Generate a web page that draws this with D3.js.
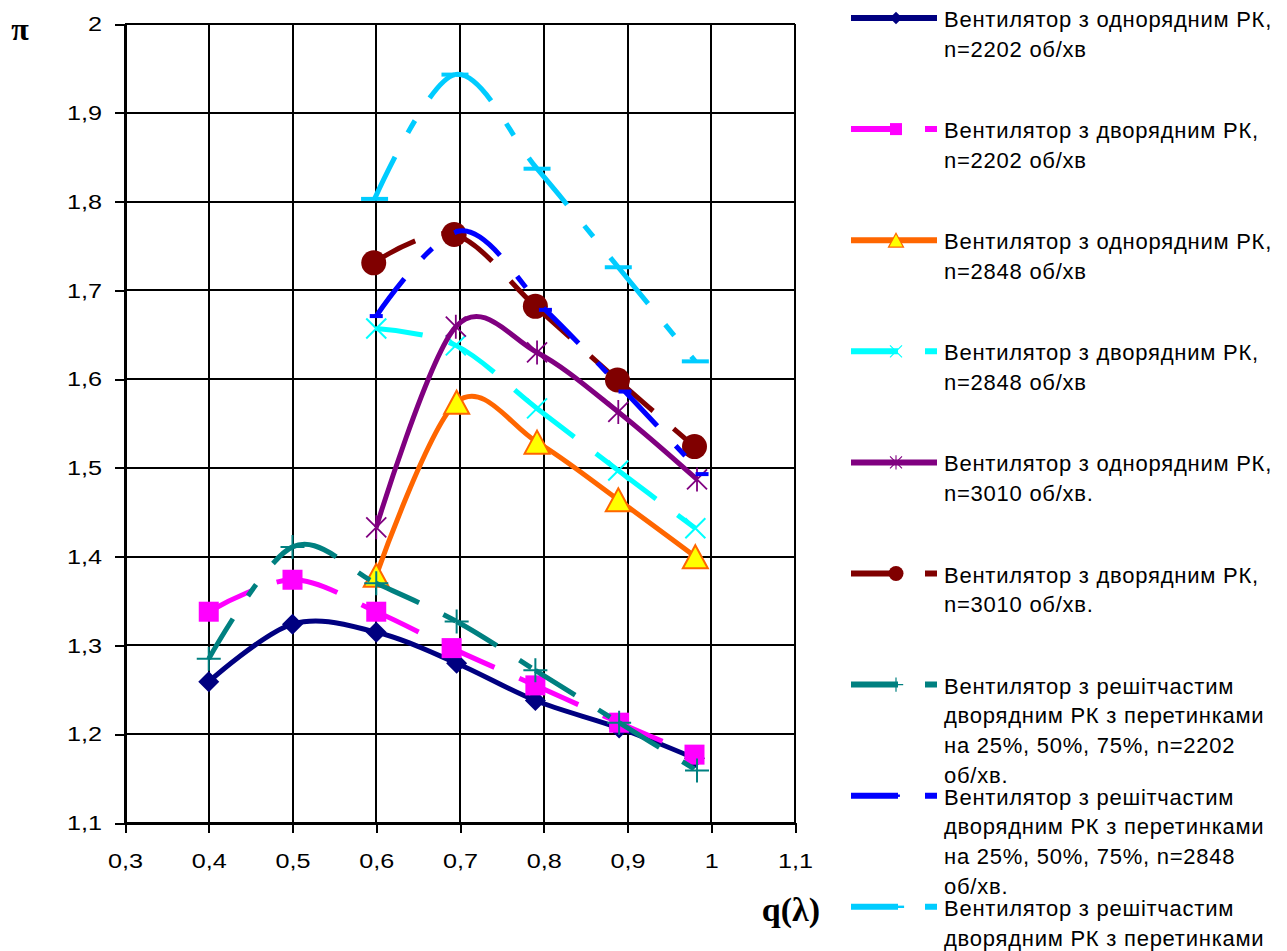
<!DOCTYPE html>
<html><head><meta charset="utf-8">
<script src="https://cdn.jsdelivr.net/npm/d3@7"></script>
<style>
body{margin:0;background:#fff}svg{display:block}
.xt{transform-box:fill-box;transform-origin:center;transform:scaleX(1.2)}
.yt{transform-box:fill-box;transform-origin:right center;transform:scaleX(1.2)}
</style>
</head><body><svg id="c" width="1287" height="951"></svg>
<script>
const xTicks = [0.3,0.4,0.5,0.6,0.7,0.8,0.9,1.0,1.1];
const xTickLabels = ["0,3","0,4","0,5","0,6","0,7","0,8","0,9","1","1,1"];
const yTicks = [1.1,1.2,1.3,1.4,1.5,1.6,1.7,1.8,1.9,2.0];
const yTickLabels = ["1,1","1,2","1,3","1,4","1,5","1,6","1,7","1,8","1,9","2"];

const seriesLabels = [
  ["Вентилятор з однорядним РК,","n=2202 об/хв"],
  ["Вентилятор з дворядним РК,","n=2202 об/хв"],
  ["Вентилятор з однорядним РК,","n=2848 об/хв"],
  ["Вентилятор з дворядним РК,","n=2848 об/хв"],
  ["Вентилятор з однорядним РК,","n=3010 об/хв."],
  ["Вентилятор з дворядним РК,","n=3010 об/хв."],
  ["Вентилятор з решітчастим","дворядним РК з перетинками","на 25%, 50%, 75%, n=2202","об/хв."],
  ["Вентилятор з решітчастим","дворядним РК з перетинками","на 25%, 50%, 75%, n=2848","об/хв."],
  ["Вентилятор з решітчастим","дворядним РК з перетинками","на 25%, 50%, 75%, n=3010","об/хв."]
];

const x1 = [0.4,0.5,0.6,0.696,0.79,0.89,0.98];
const y1 = [1.259,1.324,1.315,1.280,1.238,1.207,1.173];
const x2 = [0.4,0.5,0.6,0.69,0.79,0.89,0.98];
const y2 = [1.338,1.374,1.338,1.297,1.255,1.213,1.177];
const x3 = [0.6,0.696,0.792,0.889,0.981];
const y3 = [1.379,1.574,1.529,1.464,1.400];
const x4 = [0.6,0.695,0.792,0.889,0.981];
const y4 = [1.657,1.638,1.567,1.497,1.432];
const x5 = [0.6,0.695,0.792,0.889,0.983];
const y5 = [1.433,1.659,1.630,1.563,1.487];
const x6 = [0.597,0.693,0.79,0.888,0.98];
const y6 = [1.731,1.763,1.682,1.599,1.524];
const x7 = [0.4,0.5,0.6,0.696,0.79,0.89,0.983];
const y7 = [1.285,1.411,1.370,1.327,1.272,1.213,1.159];
const x8 = [0.6,0.702,0.802,0.897,0.989];
const y8 = [1.671,1.767,1.678,1.586,1.493];
const x9 = [0.598,0.694,0.792,0.889,0.981];
const y9 = [1.803,1.943,1.837,1.726,1.620];

const seriesColors = ["#000080","#FF00FF","#FF6600","#00FFFF","#800080","#800000","#008080","#0000FF","#00CCFF"];
const seriesMarkers = ["diamond","square","triangle","x","asterisk","circle","plus","dashS","dashL"];
const seriesDash = ["solid","dashdot","solid","long","solid","long","dashdot","dashdot","dashdot"];
const xs = [x1,x2,x3,x4,x5,x6,x7,x8,x9];
const ys = [y1,y2,y3,y4,y5,y6,y7,y8,y9];

const dashArrays = {solid:null, long:"47,27", dashdot:"47,27,14,27"};

const svg = d3.select("#c");
svg.append("rect").attr("width",1287).attr("height",951).attr("fill","#fff");

const L=125, R=795, T=24, B=823;
const x = d3.scaleLinear().domain([0.3,1.1]).range([L,R]);
const y = d3.scaleLinear().domain([1.1,2.0]).range([B,T]);

const FONT = "'Liberation Sans', Arial, sans-serif";
const SERIF = "'Liberation Serif','Times New Roman',serif";

// grid
const grid = svg.append("g").attr("stroke","#000").attr("stroke-width",2).attr("shape-rendering","crispEdges");
xTicks.forEach(v=>grid.append("line").attr("x1",x(v)).attr("x2",x(v)).attr("y1",T).attr("y2",B));
yTicks.forEach(v=>grid.append("line").attr("x1",L).attr("x2",R).attr("y1",y(v)).attr("y2",y(v)));

// axes
const ax = svg.append("g").attr("transform",`translate(0,${B})`)
  .call(d3.axisBottom(x).tickValues(xTicks).tickFormat((d,i)=>xTickLabels[i]).tickSize(10).tickPadding(20).tickSizeOuter(0));
const ay = svg.append("g").attr("transform",`translate(${L},0)`)
  .call(d3.axisLeft(y).tickValues(yTicks).tickFormat((d,i)=>yTickLabels[i]).tickSize(10).tickPadding(13).tickSizeOuter(0));
[ax,ay].forEach(a=>{
  a.select(".domain").attr("stroke","#000").attr("stroke-width",2).attr("shape-rendering","crispEdges");
  a.selectAll(".tick line").attr("stroke","#000").attr("stroke-width",2).attr("shape-rendering","crispEdges");
  a.selectAll(".tick text").attr("font-family",FONT).attr("font-size",21).attr("fill","#000");
});
ax.selectAll(".tick text").attr("class","xt");
ay.selectAll(".tick text").attr("class","yt");

// axis titles
svg.append("text").attr("x",20).attr("y",40).attr("text-anchor","middle")
  .attr("font-family",SERIF).attr("font-weight","bold").attr("font-size",32).text("π");
svg.append("text").attr("x",820).attr("y",921).attr("text-anchor","end")
  .attr("font-family",SERIF).attr("font-weight","bold").attr("font-size",34).text("q(λ)");

function segmentPaths(pts){
  const segs=[]; let cx=0, cy=0;
  const ctx = {
    moveTo(a,b){cx=a;cy=b;},
    lineTo(a,b){segs.push(`M${cx},${cy}L${a},${b}`);cx=a;cy=b;},
    bezierCurveTo(a,b,c,d,e,f){segs.push(`M${cx},${cy}C${a},${b},${c},${d},${e},${f}`);cx=e;cy=f;},
    closePath(){}
  };
  d3.line().x(d=>x(d[0])).y(d=>y(d[1])).curve(d3.curveCardinal.tension(0)).context(ctx)(pts);
  return segs;
}

function drawMarker(g, type, cx, cy, s, color){
  const m = g.append("g").attr("transform",`translate(${cx},${cy}) scale(${s})`);
  switch(type){
    case "diamond": m.append("path").attr("d","M0,-10.5L10.5,0L0,10.5L-10.5,0Z").attr("fill",color); break;
    case "square": m.append("rect").attr("x",-10).attr("y",-10).attr("width",20).attr("height",20).attr("fill",color); break;
    case "triangle": m.append("path").attr("d","M0,-11.5L12.5,11.5L-12.5,11.5Z").attr("fill","#FFFF00").attr("stroke",color).attr("stroke-width",2).attr("stroke-linejoin","miter"); break;
    case "x": m.append("path").attr("d","M-10,-10L10,10M-10,10L10,-10").attr("stroke",color).attr("stroke-width",2).attr("fill","none"); break;
    case "asterisk": m.append("path").attr("d","M-10,-10L10,10M-10,10L10,-10M0,-12L0,12").attr("stroke",color).attr("stroke-width",1.8).attr("fill","none"); break;
    case "circle": m.append("circle").attr("r",12.5).attr("fill",color); break;
    case "plus": m.append("path").attr("d","M-12,0L12,0M0,-12L0,12").attr("stroke",color).attr("stroke-width",2).attr("fill","none"); break;
    case "dashS": m.append("rect").attr("x",-6.5).attr("y",-2).attr("width",13).attr("height",4).attr("fill",color); break;
    case "dashL": m.append("rect").attr("x",-13.5).attr("y",-2).attr("width",27).attr("height",4).attr("fill",color); break;
  }
}

const plot = svg.append("g");
xs.forEach((xv,i)=>{
  const pts = xv.map((v,j)=>[v, ys[i][j]]);
  const g = plot.append("g");
  const color = seriesColors[i];
  if (seriesDash[i]==="solid"){
    g.append("path").attr("d", segmentPaths(pts).join(""))
      .attr("fill","none").attr("stroke",color).attr("stroke-width",5).attr("stroke-linejoin","round");
  } else {
    segmentPaths(pts).forEach(d=>{
      g.append("path").attr("d",d).attr("fill","none").attr("stroke",color).attr("stroke-width",5)
        .attr("stroke-dasharray",dashArrays[seriesDash[i]]).attr("stroke-linecap","butt");
    });
  }
  pts.forEach(p=>drawMarker(g, seriesMarkers[i], x(p[0]), y(p[1]), 1, color));
});

// legend
const lg = svg.append("g");
const legX0 = 851, legX1 = 937, legTextX = 944, legTop = 18, legStep = 111.1, lineH = 29.7;
seriesLabels.forEach((lines,i)=>{
  const ly = legTop + i*legStep;
  const color = seriesColors[i];
  const p = lg.append("path").attr("d",`M${legX0},${ly}L${legX1},${ly}`).attr("stroke",color).attr("stroke-width",6).attr("fill","none");
  if (dashArrays[seriesDash[i]]) p.attr("stroke-dasharray",dashArrays[seriesDash[i]]);
  drawMarker(lg, seriesMarkers[i], 896, ly, 0.6, color);
  const t = lg.append("text").attr("font-family",FONT).attr("font-size",22).attr("letter-spacing",0.75).attr("fill","#000");
  lines.forEach((s,k)=>t.append("tspan").attr("x",legTextX).attr("y",ly+9+k*lineH).text(s));
});
</script></body></html>
